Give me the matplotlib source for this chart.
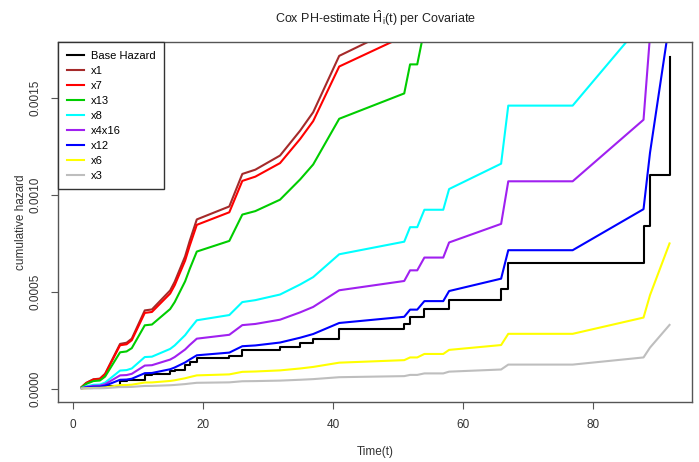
import numpy as np
import matplotlib
matplotlib.use('Agg')
import matplotlib.pyplot as plt

plt.rcParams['font.family'] = ['Liberation Sans Narrow', 'Liberation Sans', 'DejaVu Sans']
plt.rcParams['mathtext.fontset'] = 'custom'
plt.rcParams['mathtext.rm'] = 'Liberation Sans'
plt.rcParams['mathtext.it'] = 'Liberation Sans:italic'

# event / censoring times
times = [1.3, 2.0, 3.1, 4.1, 4.9, 7.2, 8.2, 9.0, 11.0, 12.1, 14.9, 15.6, 17.2, 17.9,
         19.0, 24.0, 26.0, 28.0, 31.8, 34.9, 36.9, 40.9, 50.9, 51.8, 52.9, 54.0,
         56.9, 57.8, 65.8, 66.9, 76.8, 87.7, 88.7, 91.7]

# cumulative hazards, in units of 1e-6
base_hazard = [1.5, 5.3, 8.6, 9.2, 13.7, 41.3, 42.3, 46.1, 72.1, 73.0, 90.6, 98.5, 122, 136,
               156, 168, 198, 202, 215, 238, 255, 307, 336, 369, 369, 409,
               409, 456, 514, 647, 647, 839, 1103, 1715]
h_x1 = [8.4, 29.7, 48.2, 51.5, 76.7, 231, 237, 258, 404, 409, 507, 552, 683, 762,
        874, 941, 1109, 1131, 1204, 1333, 1428, 1719, 1882, 2066, 2066, 2290,
        2290, 2554, 2878, 3623, 3623, 4698, 6177, 9604]
h_x7 = [8.1, 28.7, 46.6, 49.9, 74.3, 224, 229, 250, 391, 396, 491, 534, 661, 737,
        846, 911, 1073, 1095, 1165, 1290, 1382, 1664, 1821, 2000, 2000, 2217,
        2217, 2472, 2786, 3507, 3507, 4547, 5978, 9295]
h_x13 = [6.8, 24.1, 39.0, 41.8, 62.2, 187.5, 192, 209, 327, 331, 411, 447, 554, 617,
         708, 763, 899, 917, 976, 1081, 1158, 1394, 1525, 1675, 1675, 1857,
         1857, 2070, 2334, 2937, 2937, 3809, 5008, 7786]
h_x8 = [3.4, 12.0, 19.4, 20.8, 31.0, 93.3, 95.6, 104, 163, 165, 205, 223, 276, 307,
        353, 380, 447, 457, 486, 538, 576, 694, 759, 834, 834, 924,
        924, 1031, 1162, 1462, 1462, 1896, 2493, 3876]
h_x4x16 = [2.5, 8.8, 14.2, 15.2, 22.7, 68.4, 70.0, 76.3, 119, 121, 150, 163, 202, 225,
           258, 278, 328, 334, 356, 394, 422, 508, 556, 611, 611, 677,
           677, 755, 851, 1071, 1071, 1389, 1825, 2838]
h_x12 = [1.7, 5.9, 9.5, 10.2, 15.1, 45.6, 46.7, 50.9, 79.7, 80.7, 100, 109, 135, 150,
         172, 186, 219, 223, 238, 263, 282, 339, 371, 408, 408, 452,
         452, 504, 568, 715, 715, 927, 1219, 1895]
h_x6 = [0.7, 2.3, 3.8, 4.0, 6.0, 18.1, 18.5, 20.2, 31.5, 31.9, 39.6, 43.1, 53.4, 59.5,
        68.3, 73.5, 86.6, 88.4, 94.1, 104, 112, 134, 147, 161, 161, 179,
        179, 200, 225, 283, 283, 367, 483, 750]
h_x3 = [0.3, 1.0, 1.7, 1.8, 2.6, 7.9, 8.1, 8.9, 13.8, 14.0, 17.4, 18.9, 23.4, 26.1,
        30.0, 32.3, 38.0, 38.8, 41.3, 45.7, 49.0, 58.9, 64.5, 70.8, 70.8, 78.5,
        78.5, 87.6, 98.7, 124, 124, 161, 212, 329]

labels = ['Base Hazard', 'x1', 'x7', 'x13', 'x8', 'x4x16', 'x12', 'x6', 'x3']
colors = ['black', '#A52A2A', '#FF0000', '#00CD00', '#00FFFF', '#A020F0',
          '#0000FF', '#FFFF00', '#BEBEBE']
series = [h_x1, h_x7, h_x13, h_x8, h_x4x16, h_x12, h_x6, h_x3]

fig = plt.figure(figsize=(6.99, 4.62), dpi=100)
ax = fig.add_axes([0.0834, 0.1292, 0.9070, 0.7792])

t = np.array(times)
ax.plot(t, np.array(base_hazard) * 1e-6, drawstyle='steps-post',
        color=colors[0], lw=1.5, label=labels[0])
for vals, col, lab in zip(series, colors[1:], labels[1:]):
    ax.plot(t, np.array(vals) * 1e-6, color=col, lw=1.5, label=lab)

ax.set_xlim(-2.3, 95.2)
ax.set_ylim(-0.0000708, 0.001789)
ax.set_xticks([0, 20, 40, 60, 80])
ax.set_yticks([0, 0.0005, 0.0010, 0.0015])
ax.set_yticklabels(['0.0000', '0.0005', '0.0010', '0.0015'], rotation=90, va='center')

for s in ax.spines.values():
    s.set_color('#555555')
    s.set_linewidth(1.0)
ax.tick_params(direction='out', length=5, width=0.8, color='#555555',
               labelsize=8.5, labelcolor='#333333', pad=7)

ax.set_xlabel('Time(t)', fontsize=8.5, color='#333333')
ax.xaxis.set_label_coords(0.5, -0.12)
ax.set_ylabel('cumulative hazard', fontsize=8.5, color='#333333')
ax.yaxis.set_label_coords(-0.05, 0.5)
ax.set_title(r'Cox PH-estimate $\hat{\mathrm{H}}_{\mathrm{i}}(\mathrm{t})$ per Covariate',
             fontsize=9, color='#222222', pad=14, family='Liberation Sans')

leg = ax.legend(loc='upper left', bbox_to_anchor=(0, 1), borderaxespad=0,
                fancybox=False, framealpha=1, edgecolor='#333333', fontsize=8,
                handlelength=1.6, handletextpad=0.6, labelspacing=0.45,
                borderpad=0.75)
leg.get_frame().set_linewidth(1.0)

plt.savefig('out.png', dpi=100)
